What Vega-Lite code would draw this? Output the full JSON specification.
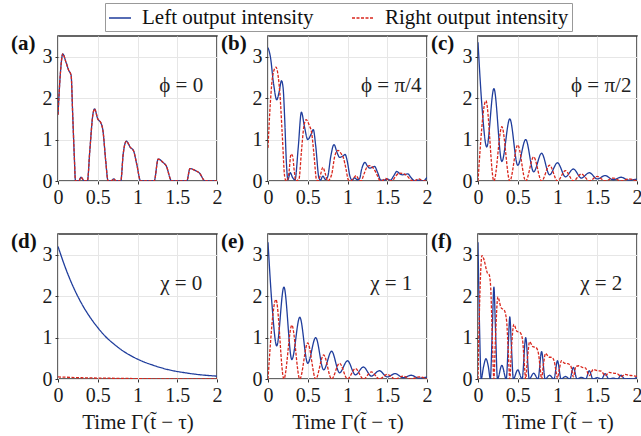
{
"$schema":"https://vega.github.io/schema/vega-lite/v6.json",
"padding":{"left":10,"top":2,"right":3,"bottom":3},
"background":"white",
"config":{
 "font":"Liberation Serif",
 "view":{"stroke":"#333","strokeWidth":1.5},
 "axis":{"labelFont":"Liberation Serif","labelFontSize":20,"labelColor":"#1a1a1a","grid":true,"gridColor":"#e6e6e6","domain":false,"tickColor":"#333","tickSize":3,"labelPadding":3,"titleFont":"Liberation Serif","titleFontSize":21,"titleFontWeight":"normal","titleColor":"#1a1a1a","labelFlush":false,"labelOverlap":false,"titlePadding":6},
 "title":{"font":"Liberation Serif","fontSize":21,"fontWeight":"bold","color":"#111","anchor":"start","frame":"group","offset":0,"dx":-47,"dy":22,"baseline":"alphabetic"},
 "legend":{"orient":"none","legendX":47,"legendY":-33,"direction":"horizontal","columns":2,"labelFont":"Liberation Serif","labelFontSize":21,"labelColor":"#111","symbolType":"stroke","symbolSize":484,"symbolStrokeWidth":1.3,"strokeColor":"#999","padding":3,"columnPadding":35,"labelOffset":10,"labelLimit":400}
},
"datasets":{
"notes":[
 {"p":"a","x":1.55,"y":2.3,"label":"ϕ = 0"},
 {"p":"b","x":1.55,"y":2.3,"label":"ϕ = π/4"},
 {"p":"c","x":1.55,"y":2.3,"label":"ϕ = π/2"},
 {"p":"d","x":1.55,"y":2.3,"label":"χ = 0"},
 {"p":"e","x":1.55,"y":2.3,"label":"χ = 1"},
 {"p":"f","x":1.55,"y":2.3,"label":"χ = 2"}
],
"curves":[
{"p":"a","s":"L","x":0,"y":1.6},{"p":"a","s":"L","x":0.03,"y":2.6},{"p":"a","s":"L","x":0.06,"y":3.07},{"p":"a","s":"L","x":0.1,"y":2.87},{"p":"a","s":"L","x":0.135,"y":2.67},{"p":"a","s":"L","x":0.165,"y":2.55},{"p":"a","s":"L","x":0.186,"y":1.54},{"p":"a","s":"L","x":0.205,"y":0.6},{"p":"a","s":"L","x":0.22,"y":0},{"p":"a","s":"L","x":0.26,"y":0},{"p":"a","s":"L","x":0.29,"y":0.09},{"p":"a","s":"L","x":0.33,"y":0},{"p":"a","s":"L","x":0.37,"y":0},{"p":"a","s":"L","x":0.4,"y":0.73},{"p":"a","s":"L","x":0.44,"y":1.62},{"p":"a","s":"L","x":0.46,"y":1.74},{"p":"a","s":"L","x":0.5,"y":1.5},{"p":"a","s":"L","x":0.54,"y":1.4},{"p":"a","s":"L","x":0.565,"y":1.22},{"p":"a","s":"L","x":0.6,"y":0.49},{"p":"a","s":"L","x":0.63,"y":0},{"p":"a","s":"L","x":0.67,"y":0},{"p":"a","s":"L","x":0.7,"y":0.05},{"p":"a","s":"L","x":0.73,"y":0},{"p":"a","s":"L","x":0.79,"y":0},{"p":"a","s":"L","x":0.82,"y":0.65},{"p":"a","s":"L","x":0.86,"y":0.96},{"p":"a","s":"L","x":0.91,"y":0.81},{"p":"a","s":"L","x":0.95,"y":0.73},{"p":"a","s":"L","x":0.99,"y":0.41},{"p":"a","s":"L","x":1.04,"y":0},{"p":"a","s":"L","x":1.21,"y":0},{"p":"a","s":"L","x":1.26,"y":0.53},{"p":"a","s":"L","x":1.32,"y":0.45},{"p":"a","s":"L","x":1.36,"y":0.37},{"p":"a","s":"L","x":1.43,"y":0},{"p":"a","s":"L","x":1.62,"y":0},{"p":"a","s":"L","x":1.66,"y":0.3},{"p":"a","s":"L","x":1.73,"y":0.25},{"p":"a","s":"L","x":1.78,"y":0.19},{"p":"a","s":"L","x":1.85,"y":0},{"p":"a","s":"L","x":2,"y":0},
{"p":"a","s":"R","x":0,"y":1.6},{"p":"a","s":"R","x":0.03,"y":2.6},{"p":"a","s":"R","x":0.06,"y":3.07},{"p":"a","s":"R","x":0.1,"y":2.87},{"p":"a","s":"R","x":0.135,"y":2.67},{"p":"a","s":"R","x":0.165,"y":2.55},{"p":"a","s":"R","x":0.186,"y":1.54},{"p":"a","s":"R","x":0.205,"y":0.6},{"p":"a","s":"R","x":0.22,"y":0},{"p":"a","s":"R","x":0.26,"y":0},{"p":"a","s":"R","x":0.29,"y":0.09},{"p":"a","s":"R","x":0.33,"y":0},{"p":"a","s":"R","x":0.37,"y":0},{"p":"a","s":"R","x":0.4,"y":0.73},{"p":"a","s":"R","x":0.44,"y":1.62},{"p":"a","s":"R","x":0.46,"y":1.74},{"p":"a","s":"R","x":0.5,"y":1.5},{"p":"a","s":"R","x":0.54,"y":1.4},{"p":"a","s":"R","x":0.565,"y":1.22},{"p":"a","s":"R","x":0.6,"y":0.49},{"p":"a","s":"R","x":0.63,"y":0},{"p":"a","s":"R","x":0.67,"y":0},{"p":"a","s":"R","x":0.7,"y":0.05},{"p":"a","s":"R","x":0.73,"y":0},{"p":"a","s":"R","x":0.79,"y":0},{"p":"a","s":"R","x":0.82,"y":0.65},{"p":"a","s":"R","x":0.86,"y":0.96},{"p":"a","s":"R","x":0.91,"y":0.81},{"p":"a","s":"R","x":0.95,"y":0.73},{"p":"a","s":"R","x":0.99,"y":0.41},{"p":"a","s":"R","x":1.04,"y":0},{"p":"a","s":"R","x":1.21,"y":0},{"p":"a","s":"R","x":1.26,"y":0.53},{"p":"a","s":"R","x":1.32,"y":0.45},{"p":"a","s":"R","x":1.36,"y":0.37},{"p":"a","s":"R","x":1.43,"y":0},{"p":"a","s":"R","x":1.62,"y":0},{"p":"a","s":"R","x":1.66,"y":0.3},{"p":"a","s":"R","x":1.73,"y":0.25},{"p":"a","s":"R","x":1.78,"y":0.19},{"p":"a","s":"R","x":1.85,"y":0},{"p":"a","s":"R","x":2,"y":0},

{"p":"b","s":"L","x":0,"y":3.22},{"p":"b","s":"L","x":0.03,"y":3.0},{"p":"b","s":"L","x":0.07,"y":2.35},{"p":"b","s":"L","x":0.11,"y":1.96},{"p":"b","s":"L","x":0.14,"y":2.15},{"p":"b","s":"L","x":0.17,"y":2.42},{"p":"b","s":"L","x":0.19,"y":2.25},{"p":"b","s":"L","x":0.21,"y":1.5},{"p":"b","s":"L","x":0.23,"y":0.5},{"p":"b","s":"L","x":0.25,"y":0.03},{"p":"b","s":"L","x":0.28,"y":0.2},{"p":"b","s":"L","x":0.31,"y":0.08},{"p":"b","s":"L","x":0.34,"y":0.03},{"p":"b","s":"L","x":0.38,"y":0.8},{"p":"b","s":"L","x":0.42,"y":1.66},{"p":"b","s":"L","x":0.46,"y":1.3},{"p":"b","s":"L","x":0.5,"y":1.0},{"p":"b","s":"L","x":0.54,"y":1.12},{"p":"b","s":"L","x":0.57,"y":1.24},{"p":"b","s":"L","x":0.6,"y":0.85},{"p":"b","s":"L","x":0.64,"y":0.08},{"p":"b","s":"L","x":0.66,"y":0.02},{"p":"b","s":"L","x":0.69,"y":0.12},{"p":"b","s":"L","x":0.72,"y":0.04},{"p":"b","s":"L","x":0.75,"y":0.1},{"p":"b","s":"L","x":0.79,"y":0.6},{"p":"b","s":"L","x":0.83,"y":0.88},{"p":"b","s":"L","x":0.87,"y":0.68},{"p":"b","s":"L","x":0.9,"y":0.57},{"p":"b","s":"L","x":0.94,"y":0.6},{"p":"b","s":"L","x":0.97,"y":0.64},{"p":"b","s":"L","x":1.0,"y":0.45},{"p":"b","s":"L","x":1.03,"y":0.12},{"p":"b","s":"L","x":1.06,"y":0.02},{"p":"b","s":"L","x":1.09,"y":0.08},{"p":"b","s":"L","x":1.12,"y":0.03},{"p":"b","s":"L","x":1.15,"y":0.05},{"p":"b","s":"L","x":1.18,"y":0.3},{"p":"b","s":"L","x":1.22,"y":0.45},{"p":"b","s":"L","x":1.25,"y":0.36},{"p":"b","s":"L","x":1.28,"y":0.31},{"p":"b","s":"L","x":1.31,"y":0.33},{"p":"b","s":"L","x":1.34,"y":0.35},{"p":"b","s":"L","x":1.38,"y":0.2},{"p":"b","s":"L","x":1.42,"y":0.02},{"p":"b","s":"L","x":1.46,"y":0.02},{"p":"b","s":"L","x":1.5,"y":0.05},{"p":"b","s":"L","x":1.54,"y":0.02},{"p":"b","s":"L","x":1.58,"y":0.12},{"p":"b","s":"L","x":1.62,"y":0.23},{"p":"b","s":"L","x":1.66,"y":0.17},{"p":"b","s":"L","x":1.69,"y":0.15},{"p":"b","s":"L","x":1.73,"y":0.16},{"p":"b","s":"L","x":1.76,"y":0.17},{"p":"b","s":"L","x":1.8,"y":0.08},{"p":"b","s":"L","x":1.84,"y":0.01},{"p":"b","s":"L","x":1.9,"y":0.02},{"p":"b","s":"L","x":1.95,"y":0.0},{"p":"b","s":"L","x":2,"y":0.09},
{"p":"b","s":"R","x":0,"y":0.8},{"p":"b","s":"R","x":0.03,"y":1.9},{"p":"b","s":"R","x":0.06,"y":2.55},{"p":"b","s":"R","x":0.1,"y":2.75},{"p":"b","s":"R","x":0.13,"y":2.5},{"p":"b","s":"R","x":0.15,"y":2.1},{"p":"b","s":"R","x":0.18,"y":1.1},{"p":"b","s":"R","x":0.21,"y":0.1},{"p":"b","s":"R","x":0.23,"y":0},{"p":"b","s":"R","x":0.26,"y":0.15},{"p":"b","s":"R","x":0.29,"y":0.65},{"p":"b","s":"R","x":0.31,"y":0.6},{"p":"b","s":"R","x":0.33,"y":0.25},{"p":"b","s":"R","x":0.35,"y":0},{"p":"b","s":"R","x":0.39,"y":0.05},{"p":"b","s":"R","x":0.42,"y":0.7},{"p":"b","s":"R","x":0.45,"y":1.3},{"p":"b","s":"R","x":0.48,"y":1.48},{"p":"b","s":"R","x":0.52,"y":1.34},{"p":"b","s":"R","x":0.55,"y":1.15},{"p":"b","s":"R","x":0.58,"y":0.6},{"p":"b","s":"R","x":0.61,"y":0.03},{"p":"b","s":"R","x":0.63,"y":0},{"p":"b","s":"R","x":0.66,"y":0.15},{"p":"b","s":"R","x":0.69,"y":0.33},{"p":"b","s":"R","x":0.72,"y":0.18},{"p":"b","s":"R","x":0.75,"y":0},{"p":"b","s":"R","x":0.8,"y":0.15},{"p":"b","s":"R","x":0.84,"y":0.6},{"p":"b","s":"R","x":0.88,"y":0.74},{"p":"b","s":"R","x":0.92,"y":0.66},{"p":"b","s":"R","x":0.95,"y":0.55},{"p":"b","s":"R","x":0.98,"y":0.3},{"p":"b","s":"R","x":1.01,"y":0.03},{"p":"b","s":"R","x":1.04,"y":0},{"p":"b","s":"R","x":1.08,"y":0.08},{"p":"b","s":"R","x":1.11,"y":0.13},{"p":"b","s":"R","x":1.14,"y":0.04},{"p":"b","s":"R","x":1.17,"y":0},{"p":"b","s":"R","x":1.21,"y":0.18},{"p":"b","s":"R","x":1.25,"y":0.35},{"p":"b","s":"R","x":1.28,"y":0.37},{"p":"b","s":"R","x":1.32,"y":0.32},{"p":"b","s":"R","x":1.36,"y":0.2},{"p":"b","s":"R","x":1.4,"y":0.03},{"p":"b","s":"R","x":1.43,"y":0},{"p":"b","s":"R","x":1.48,"y":0.06},{"p":"b","s":"R","x":1.52,"y":0.02},{"p":"b","s":"R","x":1.56,"y":0},{"p":"b","s":"R","x":1.6,"y":0.1},{"p":"b","s":"R","x":1.65,"y":0.19},{"p":"b","s":"R","x":1.7,"y":0.18},{"p":"b","s":"R","x":1.75,"y":0.12},{"p":"b","s":"R","x":1.8,"y":0.02},{"p":"b","s":"R","x":1.83,"y":0},{"p":"b","s":"R","x":1.9,"y":0.05},{"p":"b","s":"R","x":1.95,"y":0},{"p":"b","s":"R","x":2,"y":0.02},

{"p":"c","s":"L","x":0,"y":3.35},{"p":"c","s":"L","x":0.05,"y":1.8},{"p":"c","s":"L","x":0.11,"y":0.82},{"p":"c","s":"L","x":0.2,"y":2.23},{"p":"c","s":"L","x":0.3,"y":0.47},{"p":"c","s":"L","x":0.4,"y":1.5},{"p":"c","s":"L","x":0.5,"y":0.38},{"p":"c","s":"L","x":0.6,"y":1.0},{"p":"c","s":"L","x":0.7,"y":0.22},{"p":"c","s":"L","x":0.8,"y":0.67},{"p":"c","s":"L","x":0.9,"y":0.15},{"p":"c","s":"L","x":1.0,"y":0.44},{"p":"c","s":"L","x":1.1,"y":0.1},{"p":"c","s":"L","x":1.2,"y":0.29},{"p":"c","s":"L","x":1.3,"y":0.07},{"p":"c","s":"L","x":1.4,"y":0.2},{"p":"c","s":"L","x":1.5,"y":0.05},{"p":"c","s":"L","x":1.6,"y":0.13},{"p":"c","s":"L","x":1.7,"y":0.03},{"p":"c","s":"L","x":1.8,"y":0.09},{"p":"c","s":"L","x":1.9,"y":0.02},{"p":"c","s":"L","x":2,"y":0.05},
{"p":"c","s":"R","x":0,"y":0},{"p":"c","s":"R","x":0.1,"y":1.94},{"p":"c","s":"R","x":0.2,"y":0},{"p":"c","s":"R","x":0.3,"y":1.31},{"p":"c","s":"R","x":0.4,"y":0},{"p":"c","s":"R","x":0.5,"y":0.87},{"p":"c","s":"R","x":0.6,"y":0},{"p":"c","s":"R","x":0.7,"y":0.58},{"p":"c","s":"R","x":0.8,"y":0},{"p":"c","s":"R","x":0.9,"y":0.38},{"p":"c","s":"R","x":1.0,"y":0},{"p":"c","s":"R","x":1.1,"y":0.25},{"p":"c","s":"R","x":1.2,"y":0},{"p":"c","s":"R","x":1.3,"y":0.17},{"p":"c","s":"R","x":1.4,"y":0},{"p":"c","s":"R","x":1.5,"y":0.11},{"p":"c","s":"R","x":1.6,"y":0},{"p":"c","s":"R","x":1.7,"y":0.07},{"p":"c","s":"R","x":1.8,"y":0},{"p":"c","s":"R","x":1.9,"y":0.05},{"p":"c","s":"R","x":2,"y":0},

{"p":"d","s":"L","x":0,"y":3.2},{"p":"d","s":"L","x":0.1,"y":2.65},{"p":"d","s":"L","x":0.2,"y":2.19},{"p":"d","s":"L","x":0.3,"y":1.81},{"p":"d","s":"L","x":0.4,"y":1.5},{"p":"d","s":"L","x":0.5,"y":1.24},{"p":"d","s":"L","x":0.6,"y":1.02},{"p":"d","s":"L","x":0.7,"y":0.85},{"p":"d","s":"L","x":0.8,"y":0.7},{"p":"d","s":"L","x":0.9,"y":0.58},{"p":"d","s":"L","x":1.0,"y":0.48},{"p":"d","s":"L","x":1.2,"y":0.33},{"p":"d","s":"L","x":1.4,"y":0.22},{"p":"d","s":"L","x":1.6,"y":0.15},{"p":"d","s":"L","x":1.8,"y":0.1},{"p":"d","s":"L","x":2,"y":0.07},
{"p":"d","s":"R","x":0,"y":0.05},{"p":"d","s":"R","x":0.3,"y":0.03},{"p":"d","s":"R","x":0.6,"y":0.02},{"p":"d","s":"R","x":1.0,"y":0.01},{"p":"d","s":"R","x":1.5,"y":0},{"p":"d","s":"R","x":2,"y":0},

{"p":"e","s":"L","x":0,"y":3.3},{"p":"e","s":"L","x":0.05,"y":1.8},{"p":"e","s":"L","x":0.11,"y":0.8},{"p":"e","s":"L","x":0.2,"y":2.22},{"p":"e","s":"L","x":0.3,"y":0.47},{"p":"e","s":"L","x":0.4,"y":1.49},{"p":"e","s":"L","x":0.5,"y":0.38},{"p":"e","s":"L","x":0.6,"y":1.0},{"p":"e","s":"L","x":0.7,"y":0.22},{"p":"e","s":"L","x":0.8,"y":0.67},{"p":"e","s":"L","x":0.9,"y":0.15},{"p":"e","s":"L","x":1.0,"y":0.44},{"p":"e","s":"L","x":1.1,"y":0.1},{"p":"e","s":"L","x":1.2,"y":0.29},{"p":"e","s":"L","x":1.3,"y":0.07},{"p":"e","s":"L","x":1.4,"y":0.2},{"p":"e","s":"L","x":1.5,"y":0.05},{"p":"e","s":"L","x":1.6,"y":0.13},{"p":"e","s":"L","x":1.7,"y":0.03},{"p":"e","s":"L","x":1.8,"y":0.09},{"p":"e","s":"L","x":1.9,"y":0.02},{"p":"e","s":"L","x":2,"y":0.05},
{"p":"e","s":"R","x":0,"y":0},{"p":"e","s":"R","x":0.1,"y":1.92},{"p":"e","s":"R","x":0.2,"y":0},{"p":"e","s":"R","x":0.3,"y":1.3},{"p":"e","s":"R","x":0.4,"y":0},{"p":"e","s":"R","x":0.5,"y":0.87},{"p":"e","s":"R","x":0.6,"y":0},{"p":"e","s":"R","x":0.7,"y":0.58},{"p":"e","s":"R","x":0.8,"y":0},{"p":"e","s":"R","x":0.9,"y":0.38},{"p":"e","s":"R","x":1.0,"y":0},{"p":"e","s":"R","x":1.1,"y":0.25},{"p":"e","s":"R","x":1.2,"y":0},{"p":"e","s":"R","x":1.3,"y":0.17},{"p":"e","s":"R","x":1.4,"y":0},{"p":"e","s":"R","x":1.5,"y":0.11},{"p":"e","s":"R","x":1.6,"y":0},{"p":"e","s":"R","x":1.7,"y":0.07},{"p":"e","s":"R","x":1.8,"y":0},{"p":"e","s":"R","x":1.9,"y":0.05},{"p":"e","s":"R","x":2,"y":0},

{"p":"f","s":"L","x":0,"y":3.3},{"p":"f","s":"L","x":0.02,"y":1.2},{"p":"f","s":"L","x":0.04,"y":0},{"p":"f","s":"L","x":0.07,"y":0.3},{"p":"f","s":"L","x":0.1,"y":0.49},{"p":"f","s":"L","x":0.13,"y":0.3},{"p":"f","s":"L","x":0.155,"y":0},{"p":"f","s":"L","x":0.18,"y":1.2},{"p":"f","s":"L","x":0.2,"y":2.22},{"p":"f","s":"L","x":0.22,"y":1.2},{"p":"f","s":"L","x":0.245,"y":0},{"p":"f","s":"L","x":0.3,"y":0.33},{"p":"f","s":"L","x":0.355,"y":0},{"p":"f","s":"L","x":0.38,"y":0.8},{"p":"f","s":"L","x":0.4,"y":1.5},{"p":"f","s":"L","x":0.42,"y":0.8},{"p":"f","s":"L","x":0.445,"y":0},{"p":"f","s":"L","x":0.5,"y":0.22},{"p":"f","s":"L","x":0.555,"y":0},{"p":"f","s":"L","x":0.6,"y":1.0},{"p":"f","s":"L","x":0.645,"y":0},{"p":"f","s":"L","x":0.7,"y":0.14},{"p":"f","s":"L","x":0.755,"y":0},{"p":"f","s":"L","x":0.8,"y":0.66},{"p":"f","s":"L","x":0.845,"y":0},{"p":"f","s":"L","x":0.9,"y":0.09},{"p":"f","s":"L","x":0.955,"y":0},{"p":"f","s":"L","x":1.0,"y":0.44},{"p":"f","s":"L","x":1.045,"y":0},{"p":"f","s":"L","x":1.1,"y":0.06},{"p":"f","s":"L","x":1.155,"y":0},{"p":"f","s":"L","x":1.2,"y":0.28},{"p":"f","s":"L","x":1.245,"y":0},{"p":"f","s":"L","x":1.3,"y":0.04},{"p":"f","s":"L","x":1.355,"y":0},{"p":"f","s":"L","x":1.4,"y":0.2},{"p":"f","s":"L","x":1.445,"y":0},{"p":"f","s":"L","x":1.5,"y":0.03},{"p":"f","s":"L","x":1.555,"y":0},{"p":"f","s":"L","x":1.6,"y":0.13},{"p":"f","s":"L","x":1.645,"y":0},{"p":"f","s":"L","x":1.7,"y":0.02},{"p":"f","s":"L","x":1.755,"y":0},{"p":"f","s":"L","x":1.8,"y":0.09},{"p":"f","s":"L","x":1.845,"y":0},{"p":"f","s":"L","x":1.9,"y":0.01},{"p":"f","s":"L","x":1.955,"y":0},{"p":"f","s":"L","x":2,"y":0.06},
{"p":"f","s":"R","x":0,"y":0},{"p":"f","s":"R","x":0.02,"y":1.8},{"p":"f","s":"R","x":0.05,"y":2.98},{"p":"f","s":"R","x":0.08,"y":2.85},{"p":"f","s":"R","x":0.1,"y":2.68},{"p":"f","s":"R","x":0.12,"y":2.55},{"p":"f","s":"R","x":0.14,"y":2.52},{"p":"f","s":"R","x":0.16,"y":2.2},{"p":"f","s":"R","x":0.18,"y":1.0},{"p":"f","s":"R","x":0.2,"y":0},{"p":"f","s":"R","x":0.22,"y":1.0},{"p":"f","s":"R","x":0.25,"y":1.98},{"p":"f","s":"R","x":0.29,"y":1.72},{"p":"f","s":"R","x":0.33,"y":1.66},{"p":"f","s":"R","x":0.36,"y":1.4},{"p":"f","s":"R","x":0.38,"y":0.7},{"p":"f","s":"R","x":0.4,"y":0},{"p":"f","s":"R","x":0.42,"y":0.7},{"p":"f","s":"R","x":0.45,"y":1.32},{"p":"f","s":"R","x":0.49,"y":1.15},{"p":"f","s":"R","x":0.53,"y":1.12},{"p":"f","s":"R","x":0.56,"y":0.95},{"p":"f","s":"R","x":0.58,"y":0.45},{"p":"f","s":"R","x":0.6,"y":0},{"p":"f","s":"R","x":0.62,"y":0.45},{"p":"f","s":"R","x":0.65,"y":0.9},{"p":"f","s":"R","x":0.69,"y":0.78},{"p":"f","s":"R","x":0.73,"y":0.76},{"p":"f","s":"R","x":0.76,"y":0.62},{"p":"f","s":"R","x":0.78,"y":0.3},{"p":"f","s":"R","x":0.8,"y":0},{"p":"f","s":"R","x":0.82,"y":0.3},{"p":"f","s":"R","x":0.85,"y":0.62},{"p":"f","s":"R","x":0.89,"y":0.53},{"p":"f","s":"R","x":0.93,"y":0.52},{"p":"f","s":"R","x":0.96,"y":0.42},{"p":"f","s":"R","x":0.98,"y":0.2},{"p":"f","s":"R","x":1.0,"y":0.02},{"p":"f","s":"R","x":1.02,"y":0.2},{"p":"f","s":"R","x":1.05,"y":0.44},{"p":"f","s":"R","x":1.09,"y":0.38},{"p":"f","s":"R","x":1.13,"y":0.37},{"p":"f","s":"R","x":1.17,"y":0.3},{"p":"f","s":"R","x":1.2,"y":0.05},{"p":"f","s":"R","x":1.23,"y":0.3},{"p":"f","s":"R","x":1.27,"y":0.32},{"p":"f","s":"R","x":1.31,"y":0.28},{"p":"f","s":"R","x":1.35,"y":0.27},{"p":"f","s":"R","x":1.4,"y":0.08},{"p":"f","s":"R","x":1.45,"y":0.23},{"p":"f","s":"R","x":1.5,"y":0.2},{"p":"f","s":"R","x":1.55,"y":0.19},{"p":"f","s":"R","x":1.6,"y":0.08},{"p":"f","s":"R","x":1.65,"y":0.16},{"p":"f","s":"R","x":1.7,"y":0.14},{"p":"f","s":"R","x":1.75,"y":0.13},{"p":"f","s":"R","x":1.8,"y":0.06},{"p":"f","s":"R","x":1.85,"y":0.11},{"p":"f","s":"R","x":1.9,"y":0.09},{"p":"f","s":"R","x":1.95,"y":0.08},{"p":"f","s":"R","x":2,"y":0.06}
]
},
"columns":3,
"spacing":{"row":53,"column":51},
"bounds":"flush",
"resolve":{"scale":{"color":"shared","strokeDash":"shared"}},
"concat":[
{"width":159,"height":145,"title":{"text":"(a)"},
 "layer":[
  {"data":{"name":"curves"},"transform":[{"filter":"datum.p=='a'"}],"mark":{"type":"line","interpolate":"monotone","strokeWidth":1.3,"clip":true},
   "encoding":{"x":{"field":"x","type":"quantitative","scale":{"domain":[0,2],"nice":false},"axis":{"values":[0,0.5,1,1.5,2],"labelExpr":"datum.value + ''","title":null}},
    "y":{"field":"y","type":"quantitative","scale":{"domain":[0,3.5],"nice":false,"zero":false},"axis":{"values":[0,1,2,3],"title":null}},
    "color":{"field":"s","type":"nominal","scale":{"domain":["L","R"],"range":["#1f3d9c","#d9261c"]},"legend":{"title":null,"labelExpr":"datum.value == 'L' ? 'Left output intensity' : 'Right output intensity'"}},
    "strokeDash":{"field":"s","type":"nominal","scale":{"domain":["L","R"],"range":[[1,0],[3,1.5]]},"legend":{"title":null,"labelExpr":"datum.value == 'L' ? 'Left output intensity' : 'Right output intensity'"}}}},
  {"data":{"name":"notes"},"transform":[{"filter":"datum.p=='a'"}],"mark":{"type":"text","font":"Liberation Serif","fontSize":21,"color":"#222","align":"center","baseline":"middle"},
   "encoding":{"x":{"field":"x","type":"quantitative","axis":{"values":[0,0.5,1,1.5,2],"labelExpr":"datum.value + ''","title":null}},"y":{"field":"y","type":"quantitative","axis":{"values":[0,1,2,3],"title":null}},"text":{"field":"label"}}}
 ]},
{"width":159,"height":145,"title":{"text":"(b)"},
 "layer":[
  {"data":{"name":"curves"},"transform":[{"filter":"datum.p=='b'"}],"mark":{"type":"line","interpolate":"monotone","strokeWidth":1.3,"clip":true},
   "encoding":{"x":{"field":"x","type":"quantitative","scale":{"domain":[0,2],"nice":false},"axis":{"values":[0,0.5,1,1.5,2],"labelExpr":"datum.value + ''","title":null}},
    "y":{"field":"y","type":"quantitative","scale":{"domain":[0,3.5],"nice":false,"zero":false},"axis":{"values":[0,1,2,3],"title":null}},
    "color":{"field":"s","type":"nominal","scale":{"domain":["L","R"],"range":["#1f3d9c","#d9261c"]},"legend":{"title":null,"labelExpr":"datum.value == 'L' ? 'Left output intensity' : 'Right output intensity'"}},
    "strokeDash":{"field":"s","type":"nominal","scale":{"domain":["L","R"],"range":[[1,0],[3,1.5]]},"legend":{"title":null,"labelExpr":"datum.value == 'L' ? 'Left output intensity' : 'Right output intensity'"}}}},
  {"data":{"name":"notes"},"transform":[{"filter":"datum.p=='b'"}],"mark":{"type":"text","font":"Liberation Serif","fontSize":21,"color":"#222","align":"center","baseline":"middle"},
   "encoding":{"x":{"field":"x","type":"quantitative","axis":{"values":[0,0.5,1,1.5,2],"labelExpr":"datum.value + ''","title":null}},"y":{"field":"y","type":"quantitative","axis":{"values":[0,1,2,3],"title":null}},"text":{"field":"label"}}}
 ]},
{"width":159,"height":145,"title":{"text":"(c)"},
 "layer":[
  {"data":{"name":"curves"},"transform":[{"filter":"datum.p=='c'"}],"mark":{"type":"line","interpolate":"monotone","strokeWidth":1.3,"clip":true},
   "encoding":{"x":{"field":"x","type":"quantitative","scale":{"domain":[0,2],"nice":false},"axis":{"values":[0,0.5,1,1.5,2],"labelExpr":"datum.value + ''","title":null}},
    "y":{"field":"y","type":"quantitative","scale":{"domain":[0,3.5],"nice":false,"zero":false},"axis":{"values":[0,1,2,3],"title":null}},
    "color":{"field":"s","type":"nominal","scale":{"domain":["L","R"],"range":["#1f3d9c","#d9261c"]},"legend":{"title":null,"labelExpr":"datum.value == 'L' ? 'Left output intensity' : 'Right output intensity'"}},
    "strokeDash":{"field":"s","type":"nominal","scale":{"domain":["L","R"],"range":[[1,0],[3,1.5]]},"legend":{"title":null,"labelExpr":"datum.value == 'L' ? 'Left output intensity' : 'Right output intensity'"}}}},
  {"data":{"name":"notes"},"transform":[{"filter":"datum.p=='c'"}],"mark":{"type":"text","font":"Liberation Serif","fontSize":21,"color":"#222","align":"center","baseline":"middle"},
   "encoding":{"x":{"field":"x","type":"quantitative","axis":{"values":[0,0.5,1,1.5,2],"labelExpr":"datum.value + ''","title":null}},"y":{"field":"y","type":"quantitative","axis":{"values":[0,1,2,3],"title":null}},"text":{"field":"label"}}}
 ]},
{"width":159,"height":145,"title":{"text":"(d)"},
 "layer":[
  {"data":{"name":"curves"},"transform":[{"filter":"datum.p=='d'"}],"mark":{"type":"line","interpolate":"monotone","strokeWidth":1.3,"clip":true},
   "encoding":{"x":{"field":"x","type":"quantitative","scale":{"domain":[0,2],"nice":false},"axis":{"values":[0,0.5,1,1.5,2],"labelExpr":"datum.value + ''","title":"Time Γ(t̃ − τ)"}},
    "y":{"field":"y","type":"quantitative","scale":{"domain":[0,3.5],"nice":false,"zero":false},"axis":{"values":[0,1,2,3],"title":null}},
    "color":{"field":"s","type":"nominal","scale":{"domain":["L","R"],"range":["#1f3d9c","#d9261c"]},"legend":{"title":null,"labelExpr":"datum.value == 'L' ? 'Left output intensity' : 'Right output intensity'"}},
    "strokeDash":{"field":"s","type":"nominal","scale":{"domain":["L","R"],"range":[[1,0],[3,1.5]]},"legend":{"title":null,"labelExpr":"datum.value == 'L' ? 'Left output intensity' : 'Right output intensity'"}}}},
  {"data":{"name":"notes"},"transform":[{"filter":"datum.p=='d'"}],"mark":{"type":"text","font":"Liberation Serif","fontSize":21,"color":"#222","align":"center","baseline":"middle"},
   "encoding":{"x":{"field":"x","type":"quantitative","axis":{"values":[0,0.5,1,1.5,2],"labelExpr":"datum.value + ''","title":"Time Γ(t̃ − τ)"}},"y":{"field":"y","type":"quantitative","axis":{"values":[0,1,2,3],"title":null}},"text":{"field":"label"}}}
 ]},
{"width":159,"height":145,"title":{"text":"(e)"},
 "layer":[
  {"data":{"name":"curves"},"transform":[{"filter":"datum.p=='e'"}],"mark":{"type":"line","interpolate":"monotone","strokeWidth":1.3,"clip":true},
   "encoding":{"x":{"field":"x","type":"quantitative","scale":{"domain":[0,2],"nice":false},"axis":{"values":[0,0.5,1,1.5,2],"labelExpr":"datum.value + ''","title":"Time Γ(t̃ − τ)"}},
    "y":{"field":"y","type":"quantitative","scale":{"domain":[0,3.5],"nice":false,"zero":false},"axis":{"values":[0,1,2,3],"title":null}},
    "color":{"field":"s","type":"nominal","scale":{"domain":["L","R"],"range":["#1f3d9c","#d9261c"]},"legend":{"title":null,"labelExpr":"datum.value == 'L' ? 'Left output intensity' : 'Right output intensity'"}},
    "strokeDash":{"field":"s","type":"nominal","scale":{"domain":["L","R"],"range":[[1,0],[3,1.5]]},"legend":{"title":null,"labelExpr":"datum.value == 'L' ? 'Left output intensity' : 'Right output intensity'"}}}},
  {"data":{"name":"notes"},"transform":[{"filter":"datum.p=='e'"}],"mark":{"type":"text","font":"Liberation Serif","fontSize":21,"color":"#222","align":"center","baseline":"middle"},
   "encoding":{"x":{"field":"x","type":"quantitative","axis":{"values":[0,0.5,1,1.5,2],"labelExpr":"datum.value + ''","title":"Time Γ(t̃ − τ)"}},"y":{"field":"y","type":"quantitative","axis":{"values":[0,1,2,3],"title":null}},"text":{"field":"label"}}}
 ]},
{"width":159,"height":145,"title":{"text":"(f)"},
 "layer":[
  {"data":{"name":"curves"},"transform":[{"filter":"datum.p=='f'"}],"mark":{"type":"line","interpolate":"monotone","strokeWidth":1.3,"clip":true},
   "encoding":{"x":{"field":"x","type":"quantitative","scale":{"domain":[0,2],"nice":false},"axis":{"values":[0,0.5,1,1.5,2],"labelExpr":"datum.value + ''","title":"Time Γ(t̃ − τ)"}},
    "y":{"field":"y","type":"quantitative","scale":{"domain":[0,3.5],"nice":false,"zero":false},"axis":{"values":[0,1,2,3],"title":null}},
    "color":{"field":"s","type":"nominal","scale":{"domain":["L","R"],"range":["#1f3d9c","#d9261c"]},"legend":{"title":null,"labelExpr":"datum.value == 'L' ? 'Left output intensity' : 'Right output intensity'"}},
    "strokeDash":{"field":"s","type":"nominal","scale":{"domain":["L","R"],"range":[[1,0],[3,1.5]]},"legend":{"title":null,"labelExpr":"datum.value == 'L' ? 'Left output intensity' : 'Right output intensity'"}}}},
  {"data":{"name":"notes"},"transform":[{"filter":"datum.p=='f'"}],"mark":{"type":"text","font":"Liberation Serif","fontSize":21,"color":"#222","align":"center","baseline":"middle"},
   "encoding":{"x":{"field":"x","type":"quantitative","axis":{"values":[0,0.5,1,1.5,2],"labelExpr":"datum.value + ''","title":"Time Γ(t̃ − τ)"}},"y":{"field":"y","type":"quantitative","axis":{"values":[0,1,2,3],"title":null}},"text":{"field":"label"}}}
 ]}
]
}
